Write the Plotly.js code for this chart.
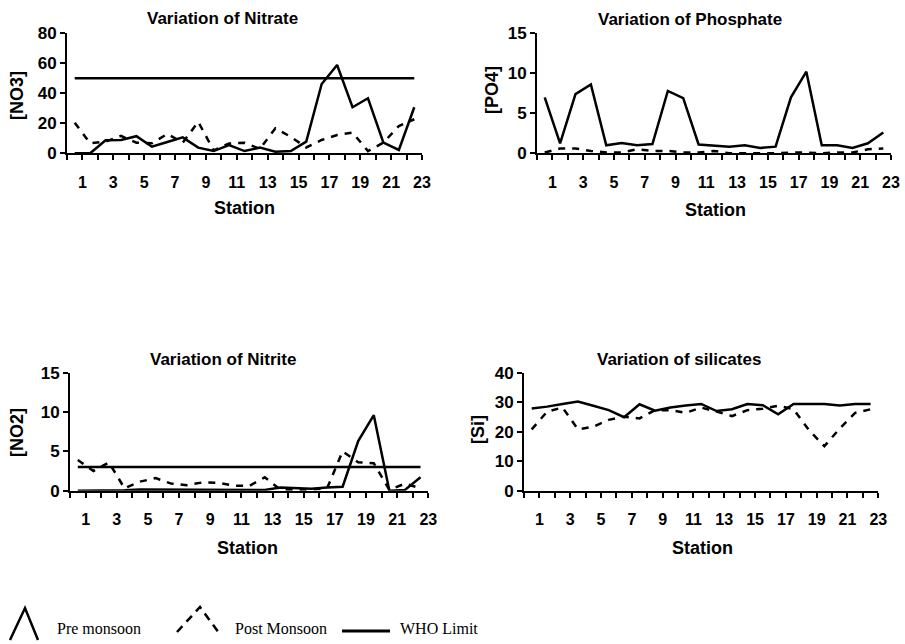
<!DOCTYPE html>
<html>
<head>
<meta charset="utf-8">
<script src="https://cdn.plot.ly/plotly-3.0.1.min.js"></script>
<style>
html,body{margin:0;padding:0;background:#fff;}
#chart{width:905px;height:644px;}
</style>
</head>
<body>
<div id="chart"></div>
<script>
// ---- data ----
const stations = [1,2,3,4,5,6,7,8,9,10,11,12,13,14,15,16,17,18,19,20,21,22,23];

const nitratePre  = [0,0,8.7,8.9,11.4,4.4,7.5,10.6,3.8,1.5,5.5,1.5,3.8,1,1.5,7.8,46.2,58.9,30.7,36.7,7.1,2.2,30.7];
const nitratePost = [20.4,6.7,7.8,11.6,7.1,6.7,12.9,7.1,21,2,6.5,7,3,16.7,11,3.9,8.9,12.2,13.8,1.5,7.1,18.2,22.7];
const nitrateWHO  = 50;

const phosphatePre  = [7.0,1.25,7.4,8.6,1.0,1.3,1.0,1.15,7.8,6.9,1.1,1.0,0.83,1.0,0.67,0.83,7.0,10.2,1.0,1.0,0.67,1.25,2.6];
const phosphatePost = [0.1,0.6,0.6,0.3,0.1,0.1,0.5,0.3,0.3,0.1,0.1,0.3,0,0,0,0,0.1,0.1,0,0.1,0.1,0.5,0.6];

const nitritePre  = [0,0,0,0.05,0.15,0.15,0.15,0.15,0.15,0.15,0.15,0.15,0.1,0.4,0.35,0.25,0.4,0.5,6.3,9.6,0,0.1,1.7];
const nitritePost = [3.9,2.5,3.6,0.3,1.15,1.6,0.9,0.7,1.05,1.0,0.65,0.6,1.7,0.15,0.15,0.15,0.3,5.0,3.6,3.5,0.1,0.9,0.3];
const nitriteWHO  = 3;

const silicatePre  = [27.9,28.5,29.4,30.2,28.8,27.3,24.9,29.3,27.1,28.2,28.9,29.4,27.0,27.6,29.4,29.0,25.9,29.4,29.4,29.4,28.9,29.4,29.4];
const silicatePost = [20.8,26.8,28.2,20.8,21.7,24.0,25.1,24.5,27.3,27.3,26.4,28.2,26.8,25.3,27.3,27.8,28.8,27.6,20.5,15.1,21.1,26.4,27.6];

const xTickLabels = ['','1','','3','','5','','7','','9','','11','','13','','15','','17','','19','','21','','23'];

const panelTitles = ['Variation of Nitrate','Variation of Phosphate','Variation of Nitrite','Variation of silicates'];
const yTitles = ['[NO3]','[PO4]','[NO2]','[Si]'];
const xTitle = 'Station';
const legendLabels = ['Pre monsoon','Post Monsoon','WHO Limit'];

// ---- layout helpers ----
const W = 905, H = 644;
const px = x => x / W;
const py = y => 1 - y / H;

const FONT = 'Liberation Sans, Arial, sans-serif';
const tickVals = xTickLabels.map((t, i) => i + 0.5);

function xAxis(x0, x1) {
  return {
    domain: [px(x0), px(x1)], range: [0.5, 23.5],
    tickmode: 'array', tickvals: tickVals, ticktext: xTickLabels,
    ticks: 'outside', ticklen: 5, tickwidth: 2, tickcolor: '#000',
    showline: true, linewidth: 2, linecolor: '#000',
    showgrid: false, zeroline: false, fixedrange: true,
    ticklabelstandoff: 8,
    tickfont: {family: FONT, size: 16, color: '#000', weight: 'bold'}
  };
}
function yAxis(y0, y1, max, dt, anchor) {
  return {
    domain: [py(y0), py(y1)], range: [0, max], dtick: dt, tick0: 0,
    ticks: 'outside', ticklen: 5, tickwidth: 2, tickcolor: '#000',
    showline: true, linewidth: 2, linecolor: '#000',
    showgrid: false, zeroline: false, fixedrange: true,
    anchor: anchor,
    tickfont: {family: FONT, size: 17, color: '#000', weight: 'bold'}
  };
}

const solid = {color: '#000', width: 2.5};
const dashed = {color: '#000', width: 2.5, dash: '7px,7px'};
const whoLine = {color: '#000', width: 2.5};

function series(y, line, xa, ya) {
  return {x: stations, y: y, type: 'scatter', mode: 'lines', line: line,
          xaxis: xa, yaxis: ya, cliponaxis: false, hoverinfo: 'skip', showlegend: false};
}

const traces = [
  series(nitratePost, dashed, 'x', 'y'),
  series(nitratePre, solid, 'x', 'y'),
  series(stations.map(() => nitrateWHO), whoLine, 'x', 'y'),
  series(phosphatePost, dashed, 'x2', 'y2'),
  series(phosphatePre, solid, 'x2', 'y2'),
  series(nitritePost, dashed, 'x3', 'y3'),
  series(nitritePre, solid, 'x3', 'y3'),
  series(stations.map(() => nitriteWHO), whoLine, 'x3', 'y3'),
  series(silicatePost, dashed, 'x4', 'y4'),
  series(silicatePre, solid, 'x4', 'y4')
];

function ann(text, x, y, size, opts) {
  return Object.assign({
    text: text, x: px(x), y: py(y), xref: 'paper', yref: 'paper',
    showarrow: false, xanchor: 'center', yanchor: 'middle',
    font: {family: FONT, size: size, color: '#000', weight: 'bold'}
  }, opts || {});
}

const SERIF = 'Liberation Serif, DejaVu Serif, serif';
const legFont = {family: SERIF, size: 16, color: '#000'};
const annotations = [
  ann(panelTitles[0], 222, 19, 17),
  ann(panelTitles[1], 690, 20, 17),
  ann(panelTitles[2], 223, 359, 17),
  ann(panelTitles[3], 679, 359, 17),
  ann(yTitles[0], 17, 96, 18, {textangle: -90}),
  ann(yTitles[1], 492, 90, 18, {textangle: -90}),
  ann(yTitles[2], 17, 433, 18, {textangle: -90}),
  ann(yTitles[3], 478, 430, 18, {textangle: -90}),
  ann(xTitle, 244, 208, 18),
  ann(xTitle, 715, 210, 18),
  ann(xTitle, 248, 548, 18),
  ann(xTitle, 702, 548, 18),
  ann(legendLabels[0], 55, 628, 16, {xanchor: 'left', font: legFont}),
  ann(legendLabels[1], 233, 628, 16, {xanchor: 'left', font: legFont}),
  ann(legendLabels[2], 398, 628, 16, {xanchor: 'left', font: legFont})
];

function pathPx(pts) {
  return 'M' + pts.map(p => px(p[0]) + ',' + py(p[1])).join(' L');
}
const shapes = [
  {type: 'path', xref: 'paper', yref: 'paper', path: pathPx([[10,640],[25,608],[38,640]]),
   line: {color: '#000', width: 2.5}},
  {type: 'path', xref: 'paper', yref: 'paper', path: pathPx([[177,632],[200,607],[219,633]]),
   line: {color: '#000', width: 2.5, dash: '8px,6px'}},
  {type: 'line', xref: 'paper', yref: 'paper', x0: px(342), x1: px(390), y0: py(631), y1: py(631),
   line: {color: '#000', width: 3}}
];

const layout = {
  width: W, height: H,
  margin: {l: 0, r: 0, t: 0, b: 0},
  paper_bgcolor: '#fff', plot_bgcolor: '#fff',
  showlegend: false,
  xaxis: Object.assign(xAxis(67, 422), {anchor: 'y'}),
  yaxis: yAxis(153.3, 33.3, 80, 20, 'x'),
  xaxis2: Object.assign(xAxis(537, 891), {anchor: 'y2'}),
  yaxis2: yAxis(153.3, 33.3, 15, 5, 'x2'),
  xaxis3: Object.assign(xAxis(70, 428.3), {anchor: 'y3'}),
  yaxis3: yAxis(490.7, 372.7, 15, 5, 'x3'),
  xaxis4: Object.assign(xAxis(524, 878.3), {anchor: 'y4'}),
  yaxis4: yAxis(490.7, 372.7, 40, 10, 'x4'),
  annotations: annotations,
  shapes: shapes
};

Plotly.newPlot('chart', traces, layout, {displayModeBar: false, staticPlot: true});
</script>
</body>
</html>
